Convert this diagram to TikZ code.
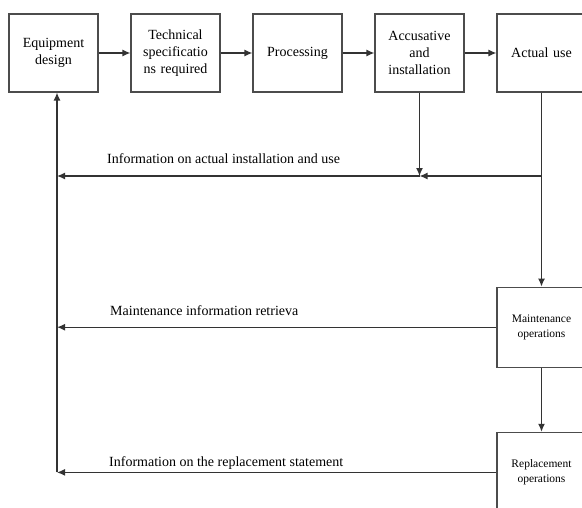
\documentclass[tikz,border=0pt]{standalone}
\usepackage{fontspec}
\setmainfont{Liberation Serif}
\usetikzlibrary{arrows.meta,positioning,calc}

\begin{document}
\begin{tikzpicture}[
    node distance=31.8pt,
    block/.style={rectangle, draw=black!70, line width=1.2pt, text width=86pt, text centered,
                  minimum width=89pt, minimum height=78pt, inner sep=1.5pt,
                  font=\fontsize{14}{17}\selectfont},
    small/.style={font=\fontsize{11.5}{15}\selectfont, minimum height=80pt},
    arrow/.style={-{Latex[length=8pt, width=7pt]}, line width=1.3pt, black!80},
    lbl/.style={font=\fontsize{14}{16}\selectfont, inner sep=0pt}
]
\useasboundingbox (0,0) rectangle (582pt,-507pt);

%% -- Top row --------------------------------------------------------
\node[block] (design) at (53.5pt,-53pt) {Equipment\\design};
\node[block, right=of design]  (spec)    {Technical\\specificatio\\ns required};
\node[block, right=of spec]    (proc)    {Processing\\[6pt]};
\node[block, right=of proc]    (install) {Accusative\\and\\installation};
\node[block, right=of install] (use)     {Actual use};

%% -- Right column ---------------------------------------------------
\node[block, small, below=194pt of use]  (maint) {Maintenance\\operations};
\node[block, small, below=64pt of maint] (repl)  {Replacement\\operations};

\coordinate (fb)  at (0,-176pt);
\coordinate (lft) at ([xshift=3.5pt]design.south);

%% -- Labels ---------------------------------------------------------
\node[lbl, anchor=base west] (infouse)  at ([xshift=50pt, yshift=13pt]lft |- fb)
    {Information on actual installation and use};
\node[lbl, anchor=base west] (infomnt)  at ([xshift=53pt, yshift=12pt]lft |- maint.west)
    {Maintenance information retrieva};
\node[lbl, anchor=base west] (inforepl) at ([xshift=52pt, yshift=6pt]lft |- repl.west)
    {Information on the replacement statement};

%% -- Arrows ---------------------------------------------------------
\draw[arrow] (design)  -- (spec);
\draw[arrow] (spec)    -- (proc);
\draw[arrow] (proc)    -- (install);
\draw[arrow] (install) -- (use);
\draw[arrow] (use)     -- (maint);
\draw[arrow] (maint)   -- (repl);

\draw[arrow] (install) -- (install.south |- fb);
\draw[arrow] (use.south |- fb) -- (install.south |- fb);
\draw[arrow] (install.south |- fb) -- (lft |- fb);
\draw[arrow] (maint.west) -- (lft |- maint.west);
\draw[arrow] (repl.west)  -- (lft |- repl.west);
\draw[arrow] (lft |- repl.west) -- (lft);
\end{tikzpicture}
\end{document}
